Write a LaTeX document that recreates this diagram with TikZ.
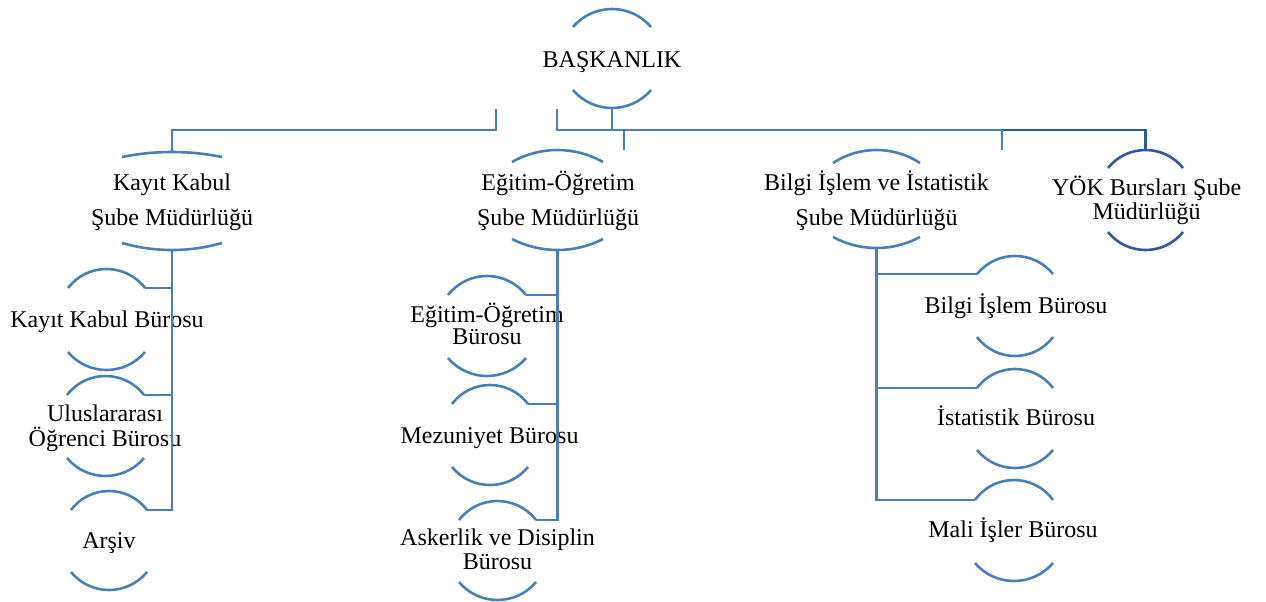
\documentclass[tikz,border=0pt]{standalone}
\usepackage{fontspec}
\setmainfont{Liberation Serif}
\definecolor{mainblue}{RGB}{74,126,187}
\definecolor{darkblue}{RGB}{50,87,160}
\tikzset{
  ringline/.style={draw=mainblue,line width=2.6pt},
  conn/.style={draw=mainblue,line width=2.5pt,line join=miter},
  darkline/.style={draw=darkblue},
  lbl/.style={anchor=base,align=center,inner sep=0pt,font=\fontsize{24}{28}\selectfont},
}
% #1 style, #2 name, #3 xl, #4 xr, #5 top end y, #6 top peak y, #7 bottom end y, #8 bottom low y
\newcommand\ringarcs[8][]{%
  \pgfmathsetmacro\rgC{#4-#3}%
  \pgfmathsetmacro\rgS{#5-#6}%
  \pgfmathsetmacro\rgH{4/3*\rgS}%
  \pgfmathsetmacro\rgA{\rgH/tan(2*atan(2*\rgS/\rgC))}%
  \pgfmathsetmacro\rgT{#3+\rgA}%
  \pgfmathsetmacro\rgU{#4-\rgA}%
  \pgfmathsetmacro\rgV{#5-\rgH}%
  \draw[ringline,#1] (#3,#5) .. controls (\rgT,\rgV) and (\rgU,\rgV) .. (#4,#5);
  \pgfmathsetmacro\rgS{#8-#7}%
  \pgfmathsetmacro\rgH{4/3*\rgS}%
  \pgfmathsetmacro\rgA{\rgH/tan(2*atan(2*\rgS/\rgC))}%
  \pgfmathsetmacro\rgT{#3+\rgA}%
  \pgfmathsetmacro\rgU{#4-\rgA}%
  \pgfmathsetmacro\rgV{#7+\rgH}%
  \draw[ringline,#1] (#3,#7) .. controls (\rgT,\rgV) and (\rgU,\rgV) .. (#4,#7);
  \pgfmathsetmacro\rgM{(#3+#4)/2}%
  \coordinate (#2-t) at (\rgM,#6);
  \coordinate (#2-b) at (\rgM,#8);
  \coordinate (#2-tl) at (#3,#5);
  \coordinate (#2-tr) at (#4,#5);
}
\begin{document}
\begin{tikzpicture}[x=1pt,y=-1pt]
\useasboundingbox (0,0) rectangle (1266,602);
% arcs round each box
\ringarcs{bas}{573}{651}{27}{9}{90}{108}
\ringarcs{kk}{122}{222}{157}{152}{243}{250}
\ringarcs{kkb}{68}{145}{288}{269}{352}{370}
\ringarcs{ulu}{67}{144}{395}{376}{458}{476}
\ringarcs{ars}{71}{147}{510}{491}{572}{590}
\ringarcs{eo}{512}{603}{162}{150}{239}{250}
\ringarcs{eob}{448}{526}{295}{276}{358}{376}
\ringarcs{mez}{452}{528}{404}{385}{467}{485}
\ringarcs{ask}{459}{536}{520}{501}{582}{600}
\ringarcs{bi}{833}{920}{163}{150}{237}{248}
\ringarcs[darkline]{yok}{1108}{1183}{168}{150}{232}{250}
\ringarcs{bib}{977}{1053}{274}{256}{337}{356}
\ringarcs{ist}{977}{1053}{388}{369}{450}{468}
\ringarcs{mal}{975}{1053}{500}{480}{563}{581}
% texts (multi-line nodes are placed at the baseline of their last line)
\node[lbl] (bas) at (612,67) {BAŞKANLIK};
\node[lbl,font=\fontsize{24}{35}\selectfont] (kk) at (172,225) {Kayıt Kabul\\Şube Müdürlüğü};
\node[lbl] (kkb) at (107,327) {Kayıt Kabul Bürosu};
\node[lbl,font=\fontsize{24}{25}\selectfont] (ulu) at (105,446) {Uluslararası\\Öğrenci Bürosu};
\node[lbl] (ars) at (109,548) {Arşiv};
\node[lbl,font=\fontsize{24}{35}\selectfont] (eo) at (558,225) {Eğitim-Öğretim\\Şube Müdürlüğü};
\node[lbl,font=\fontsize{24}{22}\selectfont] (eob) at (487,344) {Eğitim-Öğretim\\Bürosu};
\node[lbl] (mez) at (489.5,443) {Mezuniyet Bürosu};
\node[lbl,font=\fontsize{24}{24}\selectfont] (ask) at (497.5,569) {Askerlik ve Disiplin\\Bürosu};
\node[lbl,font=\fontsize{24}{35}\selectfont] (bi) at (876.5,225) {Bilgi İşlem ve İstatistik\\Şube Müdürlüğü};
\node[lbl,font=\fontsize{24}{24}\selectfont] (yok) at (1146.5,219) {YÖK Bursları Şube\\Müdürlüğü};
\node[lbl] (bib) at (1016,313) {Bilgi İşlem Bürosu};
\node[lbl] (ist) at (1016,425) {İstatistik Bürosu};
\node[lbl] (mal) at (1013,537) {Mali İşler Bürosu};
% connectors
\coordinate (busL) at (496,109);
\coordinate (busR) at (557,109);
\coordinate (bus) at (0,130);
\coordinate (eoDrop) at (624,150);
\coordinate (biDrop) at (1002,150);
\draw[conn] (busL) -- (busL |- bus) -| (kk-t);
\draw[conn] (busR) -- (busR |- bus) -- (biDrop |- bus);
\draw[conn,darkline] (biDrop |- bus) -| (yok-t);
\draw[conn] (bas-b) -- (bas-b |- bus);
\draw[conn] (eoDrop |- bus) -- (eoDrop);
\draw[conn] (biDrop |- bus) -- (biDrop);
\draw[conn] (kk-b) -- (kk-b |- ars-tr) -- (ars-tr);
\draw[conn] (kk-b |- kkb-tr) -- (kkb-tr);
\draw[conn] (kk-b |- ulu-tr) -- (ulu-tr);
\draw[conn] (eo-b) -- (eo-b |- ask-tr) -- (ask-tr);
\draw[conn] (eo-b |- eob-tr) -- (eob-tr);
\draw[conn] (eo-b |- mez-tr) -- (mez-tr);
\draw[conn] (bi-b) -- (bi-b |- mal-tl) -- (mal-tl);
\draw[conn] (bi-b |- bib-tl) -- (bib-tl);
\draw[conn] (bi-b |- ist-tl) -- (ist-tl);
\end{tikzpicture}
\end{document}
